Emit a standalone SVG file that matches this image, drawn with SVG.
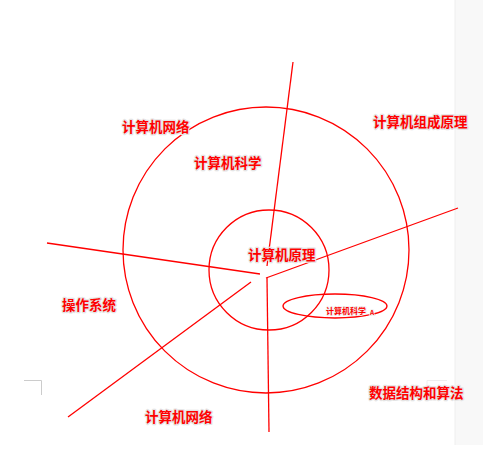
<svg xmlns="http://www.w3.org/2000/svg" width="487" height="450" viewBox="0 0 487 450">
<style>
.ring{fill:none;stroke:#ff0000;stroke-width:1.3}
.ln{stroke:#ff0000;stroke-width:1.3;fill:none}
.lbl{font-family:"Noto Sans CJK SC","Noto Sans",sans-serif;font-size:13.5px;font-weight:bold;fill:#ff0000;stroke:#e4e4e4;stroke-width:2.5;paint-order:stroke;stroke-linejoin:round}
.sm{font-family:"Noto Sans CJK SC","Noto Sans",sans-serif;font-size:8px;font-weight:bold;fill:#ff0000;stroke:#eeeeee;stroke-width:1.5;paint-order:stroke}
</style>
<rect x="0" y="0" width="487" height="450" fill="#ffffff"/>
<rect x="455" y="0" width="28" height="445" fill="#f8f8f8"/>
<line x1="455" y1="0" x2="455" y2="445" stroke="#eeeeee" stroke-width="1"/>
<path d="M24 380.5H41.5V395" fill="none" stroke="#cccccc" stroke-width="1"/>
<path d="M427 385V380.5H447" fill="none" stroke="#eeeeee" stroke-width="1"/>
<g id="outer-circle"><circle class="ring" cx="266" cy="250" r="143"/></g>
<g id="inner-circle"><circle class="ring" cx="269" cy="270" r="60"/></g>
<g id="connectors">
<line class="ln" x1="293" y1="62" x2="267" y2="266"/>
<line class="ln" x1="47" y1="243" x2="260" y2="274"/>
<line class="ln" x1="266" y1="278" x2="458" y2="208"/>
<line class="ln" x1="251" y1="282" x2="68" y2="417"/>
<line class="ln" x1="267" y1="278" x2="269" y2="432"/>
</g>
<g id="node-network-top"><text class="lbl" x="122" y="132">计算机网络</text></g>
<g id="node-cs"><text class="lbl" x="194" y="168">计算机科学</text></g>
<g id="node-organization"><text class="lbl" x="373" y="127">计算机组成原理</text></g>
<g id="node-principle"><text class="lbl" x="248" y="260">计算机原理</text></g>
<g id="node-os"><text class="lbl" x="62" y="310">操作系统</text></g>
<g id="node-network-bottom"><text class="lbl" x="145" y="422">计算机网络</text></g>
<g id="node-dsa"><text class="lbl" x="369" y="398">数据结构和算法</text></g>
<g id="node-cs-small">
<ellipse class="ring" cx="335" cy="306" rx="52" ry="12"/>
<text class="sm" x="326" y="314">计算机科学</text>
<text class="sm" x="370" y="315" style="font-size:6.5px">A</text>
</g>
</svg>
